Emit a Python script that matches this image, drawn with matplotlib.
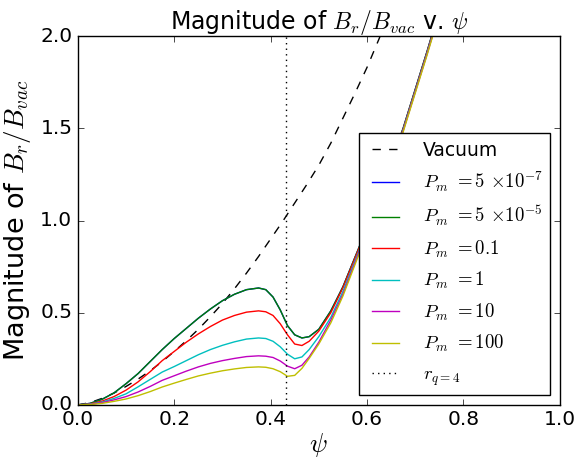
import numpy as np
import matplotlib
matplotlib.use("Agg")
import matplotlib.pyplot as plt

plt.style.use("classic")

# ── Data ──────────────────────────────────────────────────────────
psi = [0.0, 0.025, 0.05, 0.075, 0.1, 0.125, 0.15, 0.175, 0.2, 0.225, 0.25,
       0.275, 0.3, 0.325, 0.35, 0.375, 0.39, 0.405, 0.42, 0.435, 0.45, 0.465,
       0.48, 0.5, 0.525, 0.55, 0.575, 0.6, 0.625, 0.65, 0.675, 0.7, 0.725, 0.75]

pm_5e7 = [0.0, 0.008, 0.03, 0.065, 0.115, 0.17, 0.235, 0.30, 0.36, 0.415, 0.47,
          0.52, 0.565, 0.60, 0.625, 0.634, 0.625, 0.585, 0.515, 0.43, 0.38, 0.363,
          0.37, 0.41, 0.51, 0.64, 0.80, 0.96, 1.14, 1.32, 1.50, 1.71, 1.92, 2.14]
pm_5e5 = [0.0, 0.008, 0.03, 0.065, 0.115, 0.17, 0.235, 0.30, 0.36, 0.415, 0.47,
          0.52, 0.565, 0.60, 0.625, 0.634, 0.625, 0.585, 0.515, 0.43, 0.38, 0.363,
          0.37, 0.41, 0.51, 0.64, 0.80, 0.96, 1.14, 1.32, 1.50, 1.71, 1.92, 2.14]
pm_01 = [0.0, 0.005, 0.02, 0.045, 0.08, 0.125, 0.18, 0.24, 0.29, 0.34, 0.385,
         0.425, 0.46, 0.485, 0.503, 0.51, 0.505, 0.485, 0.44, 0.38, 0.33, 0.322,
         0.345, 0.40, 0.50, 0.635, 0.795, 0.955, 1.135, 1.315, 1.495, 1.705, 1.915, 2.135]
pm_1 = [0.0, 0.004, 0.015, 0.035, 0.06, 0.098, 0.138, 0.178, 0.208, 0.24, 0.272,
        0.30, 0.323, 0.342, 0.357, 0.363, 0.36, 0.345, 0.315, 0.275, 0.25, 0.26,
        0.30, 0.37, 0.475, 0.615, 0.78, 0.945, 1.125, 1.305, 1.49, 1.70, 1.91, 2.13]
pm_10 = [0.0, 0.003, 0.012, 0.027, 0.045, 0.07, 0.10, 0.133, 0.158, 0.183, 0.206,
         0.225, 0.24, 0.252, 0.262, 0.266, 0.264, 0.257, 0.238, 0.21, 0.196, 0.215,
         0.26, 0.34, 0.46, 0.60, 0.77, 0.94, 1.12, 1.30, 1.485, 1.695, 1.905, 2.125]
pm_100 = [0.0, 0.002, 0.008, 0.019, 0.032, 0.05, 0.072, 0.097, 0.118, 0.138, 0.157,
          0.172, 0.185, 0.195, 0.203, 0.206, 0.204, 0.196, 0.18, 0.155, 0.16, 0.198,
          0.252, 0.33, 0.445, 0.59, 0.76, 0.93, 1.11, 1.29, 1.48, 1.69, 1.90, 2.12]

psi_vac = [0.0, 0.025, 0.05, 0.075, 0.1, 0.125, 0.15, 0.175, 0.2, 0.225, 0.25,
           0.275, 0.3, 0.325, 0.35, 0.375, 0.4, 0.425, 0.45, 0.475, 0.5, 0.525,
           0.55, 0.575, 0.6, 0.625, 0.65]
vacuum = [0.0, 0.012, 0.035, 0.064, 0.10, 0.14, 0.185, 0.235, 0.29, 0.348, 0.41,
          0.478, 0.55, 0.63, 0.715, 0.805, 0.90, 0.995, 1.095, 1.195, 1.30, 1.42,
          1.555, 1.69, 1.83, 1.985, 2.15]

r_q4 = 0.432

labels = [r'$P_m$ $=5$ $\times10^{-7}$', r'$P_m$ $=5$ $\times10^{-5}$',
          r'$P_m$ $=0.1$', r'$P_m$ $=1$', r'$P_m$ $=10$', r'$P_m$ $=100$']
series = [pm_5e7, pm_5e5, pm_01, pm_1, pm_10, pm_100]
colors = ['b', 'g', 'r', 'c', 'm', 'y']
# ─────────────────────────────────────────────────────────────────

fig, ax = plt.subplots(figsize=(5.77, 4.58), dpi=100, facecolor='white')
fig.subplots_adjust(left=0.135, right=0.970, bottom=0.116, top=0.921)

ax.plot(psi_vac, vacuum, 'k--', label='Vacuum')
for vals, c, lab in zip(series, colors, labels):
    ax.plot(psi, vals, color=c, label=lab)
ax.axvline(r_q4, color='k', linestyle=':', label=r'$r_{q=4}$')

ax.set_xlim(0, 1)
ax.set_ylim(0, 2)
ax.set_xticks(np.arange(0, 1.01, 0.2))
ax.set_yticks(np.arange(0, 2.01, 0.5))
ax.tick_params(labelsize=14.5)
ax.set_xlabel(r'$\psi$', fontsize=19, labelpad=1)
ax.set_ylabel(r'Magnitude of $B_r/B_{vac}$', fontsize=19.5)
ax.set_title(r'Magnitude of $B_r/B_{vac}$ v. $\psi$', fontsize=17)
ax.legend(loc='lower right', fontsize=13.5, handlelength=2.0,
          handletextpad=1.0, labelspacing=0.55)

fig.savefig("out.png", dpi=100, facecolor='white')
